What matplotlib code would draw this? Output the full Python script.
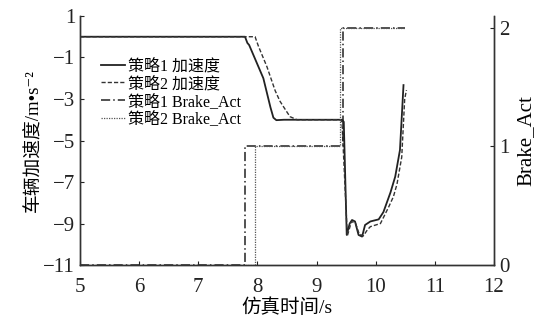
import matplotlib.pyplot as plt

plt.rcParams['font.family'] = ['Liberation Serif', 'Noto Sans CJK SC', 'DejaVu Sans']
plt.rcParams['axes.unicode_minus'] = True

# strategy 1 acceleration (m/s^2)
t_acc1 = [5.0, 7.79, 7.83, 7.86, 8.10, 8.22, 8.27, 8.32, 8.45, 9.43, 9.46, 9.51,
          9.56, 9.60, 9.65, 9.71, 9.77, 9.82, 9.91, 10.05, 10.13, 10.25, 10.33, 10.41, 10.47]
acc1 = [0.0, 0.0, -0.3, -0.4, -2.0, -3.4, -3.9, -4.02, -4.0, -4.0, -4.1, -9.55,
        -9.0, -8.83, -8.9, -9.55, -9.63, -9.07, -8.9, -8.8, -8.45, -7.5, -6.74, -5.46, -2.33]

# strategy 2 acceleration (m/s^2)
t_acc2 = [5.0, 7.96, 8.02, 8.16, 8.30, 8.38, 8.44, 8.55, 8.67, 9.40, 9.43, 9.52,
          9.55, 9.59, 9.66, 9.72, 9.79, 9.86, 9.91, 10.08, 10.22, 10.30, 10.36, 10.44, 10.49, 10.52]
acc2 = [0.0, 0.0, -0.48, -1.44, -2.6, -3.1, -3.37, -3.85, -4.0, -4.0, -4.1, -9.6,
        -9.3, -8.9, -9.0, -9.5, -9.6, -9.3, -9.15, -9.0, -8.2, -7.7, -7.1, -5.8, -3.0, -2.57]

# Brake_Act states (step changes)
t_brk1 = [5.0, 7.79, 9.44, 10.50]
brk1 = [0, 1, 2, 2]
t_brk2 = [5.0, 7.96, 9.40, 10.50]
brk2 = [0, 1, 2, 2]

fig = plt.figure(figsize=(5.45, 3.26), dpi=100)
ax1 = fig.add_axes([0.1468, 0.187, 0.7596, 0.764])
ax2 = ax1.twinx()

l1, = ax1.plot(t_acc1, acc1, color='#222222', lw=1.3, ls='-', label='策略1 加速度')
l2, = ax1.plot(t_acc2, acc2, color='#333333', lw=1.0, ls=(0, (3, 1.5)), label='策略2 加速度')
l3, = ax2.plot(t_brk1, brk1, color='#222222', lw=1.1, ls=(0, (6, 2, 1, 2)),
               drawstyle='steps-post', label='策略1 Brake_Act')
l4, = ax2.plot(t_brk2, brk2, color='#555555', lw=0.9, ls=(0, (1, 1)),
               drawstyle='steps-post', label='策略2 Brake_Act')

ax1.set_xlim(5, 12)
ax1.set_ylim(-11, 1)
ax1.set_xticks(range(5, 13))
ax1.set_yticks(range(-11, 2, 2))
ax2.set_ylim(0, 2.1)
ax2.set_yticks([0, 1, 2])

for ax in (ax1, ax2):
    ax.spines['top'].set_visible(False)
    for s in ax.spines.values():
        s.set_linewidth(1.0)
        s.set_color('#333333')
    ax.tick_params(direction='in', length=3, width=0.8, labelsize=15, colors='#222222')
ax1.tick_params(axis='x', pad=9)

ax1.set_xlabel('仿真时间/s', fontsize=14, labelpad=1)
ax1.set_ylabel('车辆加速度/m•s⁻²', fontsize=13.5, labelpad=1)
ax2.set_ylabel('Brake_Act', fontsize=15, labelpad=5)

ax1.legend(handles=[l1, l2, l3, l4], loc='upper left', bbox_to_anchor=(0.035, 0.855),
           frameon=False, fontsize=11.5, handlelength=1.5, handletextpad=0.2,
           labelspacing=0.1, borderaxespad=0)

fig.savefig('out.png', dpi=100)
